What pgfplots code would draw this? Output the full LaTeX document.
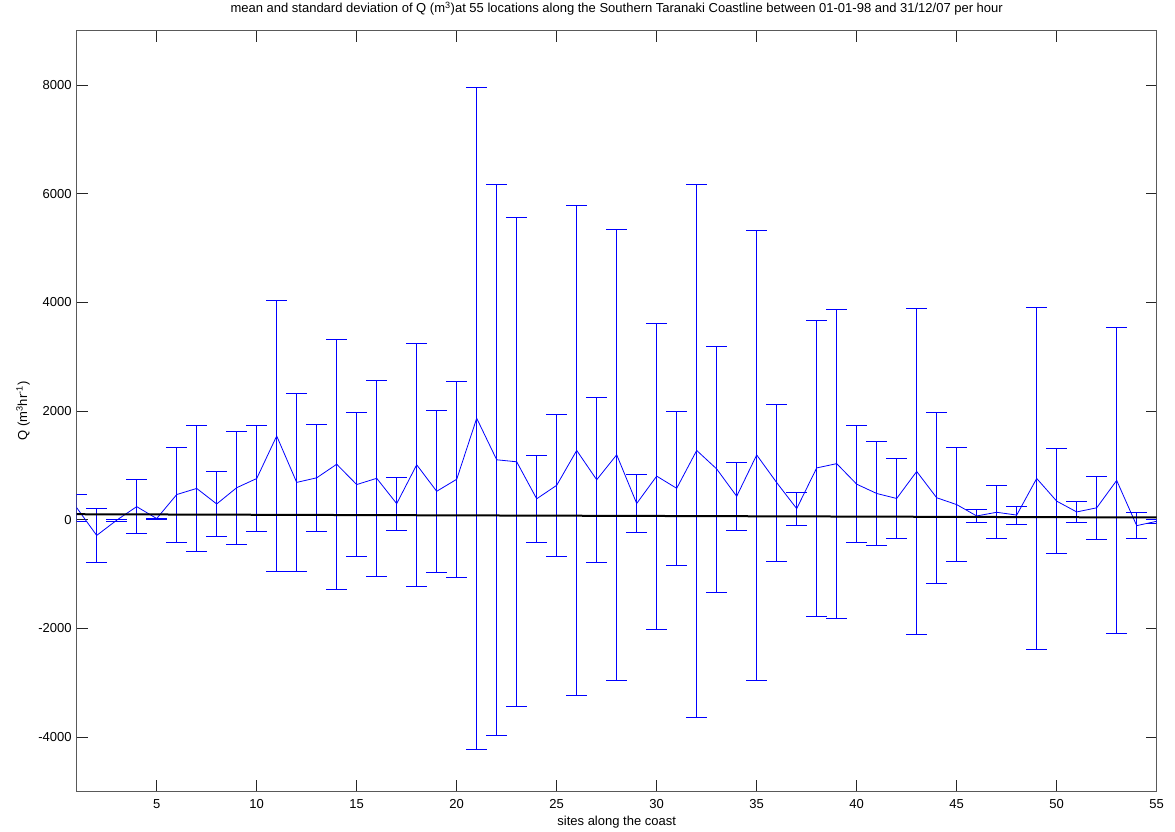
\documentclass[border=0pt]{standalone}
\usepackage{fontspec}
\setmainfont{Liberation Sans}
\usepackage{pgfplots}
\usepackage{pgfplotstable}
\pgfplotsset{compat=1.18}
\pgfplotstableread{
x m s
1 220 250
2 -290 500
3 -10 15
4 240 492
5 20 10
6 462 875
7 575 1153
8 289 603
9 588 1043
10 757 972
11 1540 2500
12 686 1646
13 770 985
14 1020 2300
15 646 1323
16 761 1810
17 295 485
18 1010 2243
19 522 1491
20 743 1810
21 1866 6093
22 1102 5077
23 1065 4494
24 384 807
25 632 1300
26 1274 4506
27 734 1518
28 1194 4144
29 298 537
30 801 2813
31 577 1411
32 1274 4906
33 933 2264
34 430 620
35 1191 4141
36 682 1448
37 203 307
38 952 2724
39 1031 2840
40 653 1077
41 482 954
42 390 740
43 887 3004
44 403 1574
45 277 1050
46 68 116
47 136 490
48 84 168
49 758 3151
50 341 967
51 142 190
52 218 586
53 722 2813
54 -110 240
55 -30 30
}\datatable
\begin{document}
\begin{tikzpicture}
\useasboundingbox (0,0) rectangle (1175pt,831pt);
\begin{axis}[
  at={(76.7pt,39.7pt)}, anchor=south west,
  scale only axis, width=1080pt, height=760.6pt,
  xmin=1, xmax=55, ymin=-5000, ymax=9000,
  xtick={5,10,...,55}, ytick={-4000,-2000,...,8000},
  tick align=inside, major tick length=11pt,
  axis line style={draw=black!65, line width=0.9pt},
  tick style={draw=black!85, line width=0.7pt},
  /pgf/number format/assume math mode=true,
  scaled y ticks=false,
  yticklabel style={/pgf/number format/1000 sep={}, font=\fontsize{13}{15}\selectfont, anchor=east, inner sep=0pt, xshift=-5pt},
  xticklabel style={font=\fontsize{13}{15}\selectfont, anchor=base, inner sep=0pt, yshift=-16.7pt},
  title={mean and standard deviation of Q (m\textsuperscript{3})at 55 locations along the Southern Taranaki Coastline between 01-01-98 and 31/12/07 per hour},
  title style={at={(axis description cs:0.5,1.0154)}, anchor=base, inner sep=0pt, font=\fontsize{13}{15}\selectfont},
  xlabel={sites along the coast},
  xlabel style={at={(axis description cs:0.5,-0.0456)}, anchor=base, inner sep=0pt, font=\fontsize{13}{15}\selectfont},
  ylabel={Q (m\textsuperscript{3}hr\textsuperscript{-1})},
  ylabel style={at={(axis description cs:-0.0497,0.5)}, anchor=center, inner sep=0pt, font=\fontsize{13}{15}\selectfont},
]
\addplot[color=blue, line width=0.8pt, mark=none,
  error bars/.cd, y dir=both, y explicit,
  error bar style={line width=0.8pt, color=blue},
  error mark=none]
  table[x=x, y=m, y error=s] {\datatable};
\addplot[blue, line width=0.8pt, -, quiver={u=1.05, v=0}]
  table[x expr=\thisrow{x}-0.525, y expr=\thisrow{m}+\thisrow{s}] {\datatable};
\addplot[blue, line width=0.8pt, -, quiver={u=1.05, v=0}]
  table[x expr=\thisrow{x}-0.525, y expr=\thisrow{m}-\thisrow{s}] {\datatable};
\addplot[black, line width=2pt, mark=none] coordinates {(1,100) (55,40)};
\end{axis}
\end{tikzpicture}
\end{document}
